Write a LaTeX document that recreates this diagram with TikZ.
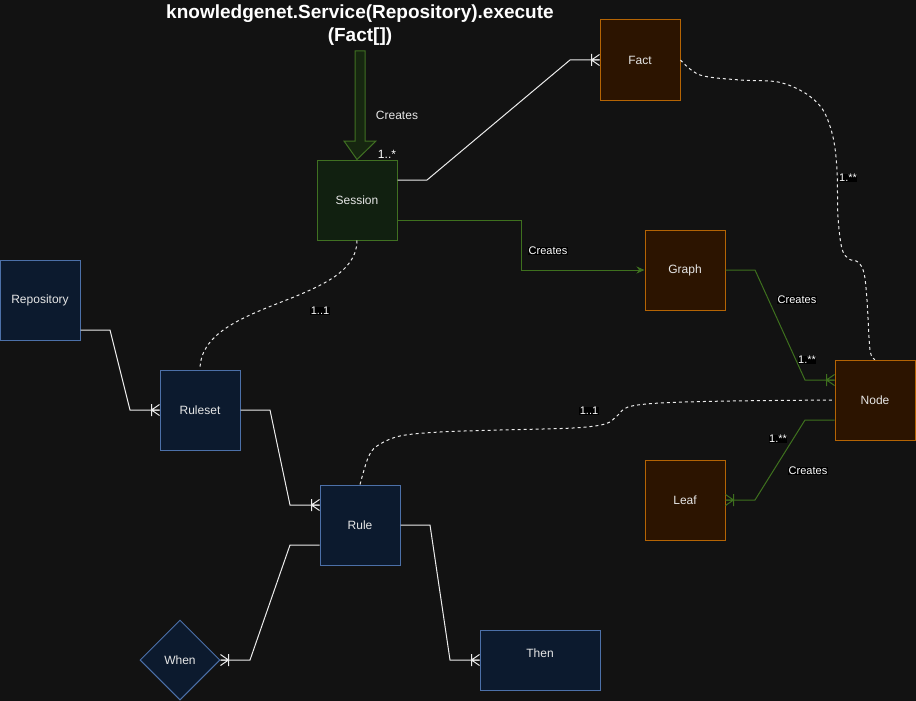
\documentclass[tikz,border=0pt]{standalone}
\usepackage{fontspec}
\setmainfont{Liberation Sans}
\usetikzlibrary{arrows.meta,shapes.geometric,calc}
\definecolor{bg}{RGB}{18,18,18}
\definecolor{bluefill}{RGB}{12,26,46}
\definecolor{blueline}{RGB}{76,112,168}
\definecolor{orfill}{RGB}{44,20,0}
\definecolor{orline}{RGB}{180,100,4}
\definecolor{grfill}{RGB}{17,32,16}
\definecolor{grline}{RGB}{64,112,34}
\definecolor{grarrowfill}{RGB}{22,38,16}
\definecolor{txt}{RGB}{230,230,230}
\definecolor{wirec}{RGB}{235,235,235}
\definecolor{gredge}{RGB}{62,112,30}
\tikzset{
  box/.style={draw, line width=1pt, minimum width=80pt, minimum height=80pt, inner sep=0pt, text=txt, font=\fontsize{12}{14}\selectfont},
  bluebox/.style={box, fill=bluefill, draw=blueline},
  orbox/.style={box, fill=orfill, draw=orline},
  grbox/.style={box, fill=grfill, draw=grline},
  wire/.style={draw=wirec, line width=1pt},
  gwire/.style={draw=gredge, line width=1pt},
  dwire/.style={draw=wirec, line width=1pt, dash pattern=on 3pt off 3pt},
  lbl/.style={fill=black, text=white, inner sep=0.6pt, font=\fontsize{11}{12}\selectfont},
  crow/.pic={\draw[line width=1pt] (-8,-6) -- (-8,6) (-8,0) -- (0,-5.5) (-8,0) -- (0,5.5) (-8,0) -- (0,0);}
}
\begin{document}
\begin{tikzpicture}[x=1pt,y=-1pt]
\useasboundingbox (0,0) rectangle (916,701);
\fill[bg] (0,0) rectangle (916,701);

% title
\node[text=white, font=\bfseries\fontsize{19}{23}\selectfont, align=center] (title) at (360,25) {knowledgenet.Service(Repository).execute\\(Fact[])};

% nodes
\node[orbox] (fact) at (640,60) {Fact};
\node[grbox] (session) at (357,200) {Session};
\node[orbox] (graph) at (685,270) {Graph};
\node[bluebox] (repo) at (40,300) {Repository};
\node[bluebox] (ruleset) at (200,410) {Ruleset};
\node[orbox] (node) at (875,400) {Node};
\node[orbox] (leaf) at (685,500) {Leaf};
\node[bluebox] (rule) at (360,525) {Rule};
\node[draw=blueline, fill=bluefill, line width=1pt, shape=diamond, minimum width=80pt, minimum height=80pt, inner sep=0pt, text=txt, font=\fontsize{12}{14}\selectfont] (when) at (180,660) {When};
\node[bluebox, minimum width=120pt, minimum height=60pt, label={[text=txt, font=\fontsize{12}{14}\selectfont, yshift=7pt]center:Then}] (then) at (540,660) {};

% big creates arrow
\coordinate (arrtop) at (360,51);
\filldraw[fill=grarrowfill, draw=grline, line width=1pt]
  ($(arrtop)+(-5,0)$) -- ($(arrtop)+(5,0)$) -- (365,141) -- (376,141) -- (session.north) -- (344,141) -- (355,141) -- cycle;
\node[text=txt, font=\fontsize{12}{14}\selectfont] (crlbl) at (397,115) {Creates};
\node[text=white, font=\fontsize{12}{14}\selectfont] (mult) at (387,154) {1..*};

% Session -> Fact
\draw[wire] ([yshift=20pt]session.east) -- (427,180) -- (570,60) -- (fact.west);
\pic[color=wirec] at (fact.west) {crow};

% Session -> Graph
\draw[gwire, -{Stealth[length=8pt,width=7pt]}] ([yshift=-20pt]session.east) -- (521,220) |- (graph.west);
\node[lbl] (l1) at (548,251) {Creates};

% Session -> Ruleset dashed
\draw[dwire] (session.south) .. controls (357,305) and (200,300) .. (ruleset.north);
\node[lbl] (l2) at (320,311) {1..1};

% Fact -> Node dashed
\draw[dwire] plot[smooth, tension=0.55] coordinates {(fact.east) (700,75) (740,80) (778,82) (805,93) (823,110) (833,137) (837,170) (838,217) (842,249) (849,259) (858,262) (864,273) (867,300) (870,350) ([xshift=0pt]node.north)};
\node[lbl] (l3) at (848,178) {1.**};

% Graph -> Node
\draw[gwire] (graph.east) -- (755,270) -- (805,380) -- ([yshift=20pt]node.west);
\pic[color=gredge] at ([yshift=20pt]node.west) {crow};
\node[lbl] (l4) at (797,300) {Creates};
\node[lbl] (l5) at (807,360) {1.**};

% Node -> Leaf
\draw[gwire] ([yshift=-20pt]node.west) -- (805,420) -- (755,500) -- (leaf.east);
\pic[color=gredge, rotate=180] at (leaf.east) {crow};
\node[lbl] (l6) at (778,439) {1.**};
\node[lbl] (l7) at (808,471) {Creates};

% Rule -> Node dashed
\draw[dwire] plot[smooth, tension=0.55] coordinates {(rule.north) (368,458) (377,446) (400,436) (440,432) (500,430) (573,428) (605,424) (617,416) (628,407) (660,403) (730,401) (node.west)};
\node[lbl] (l8) at (589,411) {1..1};

% Repository -> Ruleset
\draw[wire] ([yshift=-30pt]repo.east) -- (110,330) -- (130,410) -- (ruleset.west);
\pic[color=wirec] at (ruleset.west) {crow};

% Ruleset -> Rule
\draw[wire] (ruleset.east) -- (270,410) -- (290,505) -- ([yshift=20pt]rule.west);
\pic[color=wirec] at ([yshift=20pt]rule.west) {crow};

% Rule -> When
\draw[wire] ([yshift=-20pt]rule.west) -- (290,545) -- (250,660) -- (when.east);
\pic[color=wirec, rotate=180] at (when.east) {crow};

% Rule -> Then
\draw[wire] (rule.east) -- (430,525) -- (450,660) -- (then.west);
\pic[color=wirec] at (then.west) {crow};
\end{tikzpicture}
\end{document}
